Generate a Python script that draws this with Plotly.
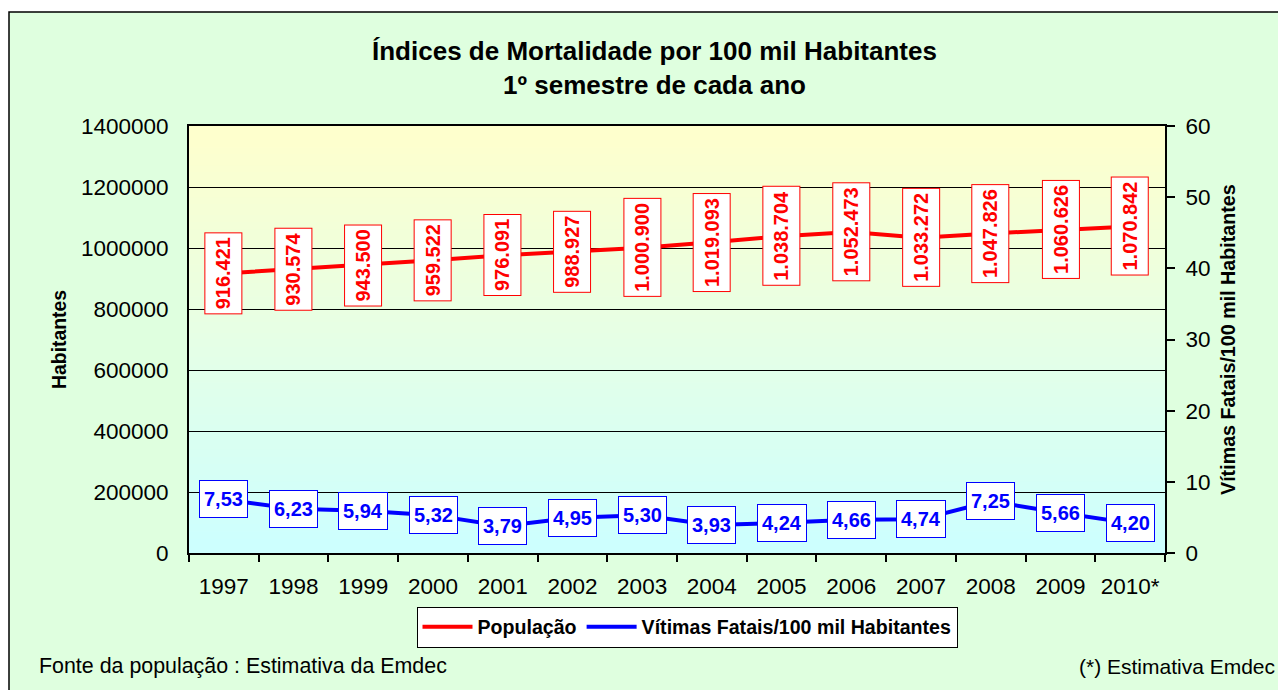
import plotly.graph_objects as go

years = ["1997", "1998", "1999", "2000", "2001", "2002", "2003", "2004",
         "2005", "2006", "2007", "2008", "2009", "2010*"]
populacao = [916421, 930574, 943500, 959522, 976091, 988927, 1000900, 1019093,
             1038704, 1052473, 1033272, 1047826, 1060626, 1070842]
vitimas = [7.53, 6.23, 5.94, 5.32, 3.79, 4.95, 5.30, 3.93,
           4.24, 4.66, 4.74, 7.25, 5.66, 4.20]
left_ticks = [0, 200000, 400000, 600000, 800000, 1000000, 1200000, 1400000]
right_ticks = [0, 10, 20, 30, 40, 50, 60]

W, H = 1286, 690
OFF = 8  # page body margin
FONT = "Arial, Liberation Sans, sans-serif"

def px_x(v):
    return (v - OFF) / W

def px_y(v):
    return 1 - (v - OFF) / H

fig = go.Figure()
fig.add_trace(go.Scatter(x=years, y=populacao, name="População", mode="lines",
                         line=dict(color="#FF0000", width=4), yaxis="y"))
fig.add_trace(go.Scatter(x=years, y=vitimas, name="Vítimas Fatais/100 mil Habitantes",
                         mode="lines", line=dict(color="#0000FF", width=4), yaxis="y2"))

def fmt_pop(v):
    return f"{v:,}".replace(",", ".")

def fmt_vit(v):
    return f"{v:.2f}".replace(".", ",")

annotations = []
for i, (yr, p) in enumerate(zip(years, populacao)):
    annotations.append(dict(x=i, y=p, xref="x", yref="y", text=fmt_pop(p),
                            showarrow=False, textangle=-90, height=28,
                            font=dict(family=FONT, size=20, color="#FF0000", weight="bold"),
                            bgcolor="white", bordercolor="#FF0000", borderwidth=1,
                            borderpad=4, xanchor="center", yanchor="middle"))
for i, (yr, v) in enumerate(zip(years, vitimas)):
    annotations.append(dict(x=i, y=v, xref="x", yref="y2", text=fmt_vit(v),
                            showarrow=False, height=28,
                            font=dict(family=FONT, size=20, color="#0000FF", weight="bold"),
                            bgcolor="white", bordercolor="#0000FF", borderwidth=1,
                            borderpad=4, xanchor="center", yanchor="middle"))

# title
annotations.append(dict(x=px_x(654), y=px_y(68), xref="paper", yref="paper",
                        text="Índices de Mortalidade por 100 mil Habitantes<br>1º semestre de cada ano",
                        showarrow=False, xanchor="center", yanchor="middle",
                        font=dict(family=FONT, size=26, color="black", weight="bold")))
# axis titles
annotations.append(dict(x=px_x(59), y=px_y(340), xref="paper", yref="paper",
                        text="Habitantes", textangle=-90, showarrow=False,
                        xanchor="center", yanchor="middle",
                        font=dict(family=FONT, size=19.4, color="black", weight="bold")))
annotations.append(dict(x=px_x(1228), y=px_y(340), xref="paper", yref="paper",
                        text="Vítimas Fatais/100 mil Habitantes", textangle=-90, showarrow=False,
                        xanchor="center", yanchor="middle",
                        font=dict(family=FONT, size=19.7, color="black", weight="bold")))
# footnotes
annotations.append(dict(x=px_x(37), y=px_y(666), xref="paper", yref="paper",
                        text="Fonte da população : Estimativa da Emdec", showarrow=False,
                        xanchor="left", yanchor="middle",
                        font=dict(family=FONT, size=21.4, color="black")))
annotations.append(dict(x=px_x(1277), y=px_y(666), xref="paper", yref="paper",
                        text="(*) Estimativa Emdec", showarrow=False,
                        xanchor="right", yanchor="middle",
                        font=dict(family=FONT, size=21, color="black")))

shapes = [dict(type="rect", xref="paper", yref="paper", x0=px_x(9), x1=1.05,
               y0=-0.05, y1=px_y(12), fillcolor="#DFFFDF",
               line=dict(color="black", width=1.5), layer="below")]
N = 120
top = (255, 255, 204)
bot = (204, 255, 255)
for k in range(N):
    t = (k + 0.5) / N  # 0 bottom -> 1 top
    c = tuple(round(bot[j] + (top[j] - bot[j]) * t) for j in range(3))
    shapes.append(dict(type="rect", xref="x domain", yref="y domain",
                       x0=0, x1=1, y0=k / N, y1=min(1, (k + 1) / N + 0.002),
                       fillcolor=f"rgb{c}", line=dict(width=0), layer="below"))

fig.update_layout(
    template="none",
    width=W, height=H, autosize=False,
    margin=dict(l=0, r=0, t=0, b=0),
    paper_bgcolor="white", plot_bgcolor="rgba(0,0,0,0)",
    font=dict(family=FONT, color="black"),
    showlegend=True,
    legend=dict(orientation="h", x=px_x(687), y=px_y(627), xanchor="center", yanchor="middle",
                bgcolor="white", bordercolor="black", borderwidth=1,
                font=dict(family=FONT, size=19.6, color="black", weight="bold"),
                itemwidth=50, tracegroupgap=0),
    xaxis=dict(domain=[px_x(189), px_x(1165)], type="category", tickson="boundaries",
               range=[-0.5, len(years) - 0.5], autorange=False, tickangle=0,
               ticks="outside", ticklen=7, tickcolor="black", tickwidth=1.5,
               showline=True, linecolor="black", linewidth=2, mirror=True,
               showgrid=False, automargin=False, ticklabelstandoff=12,
               tickfont=dict(family=FONT, size=22.5, color="black")),
    yaxis=dict(domain=[1 - (553 - OFF) / H, 1 - (126 - OFF) / H], range=[0, 1400000],
               autorange=False,
               tickvals=left_ticks, tickformat="d", ticks="",
               showline=True, linecolor="black", linewidth=2, mirror=True,
               showgrid=True, gridcolor="black", gridwidth=1, zeroline=False,
               automargin=False, ticklabelstandoff=14,
               tickfont=dict(family=FONT, size=22.5, color="black")),
    yaxis2=dict(overlaying="y", side="right", range=[0, 60], autorange=False,
                tickvals=right_ticks,
                ticks="outside", ticklen=8, tickcolor="black", tickwidth=1.5,
                showline=True, linecolor="black", linewidth=2, showgrid=False,
                zeroline=False, automargin=False, ticklabelstandoff=6,
                tickfont=dict(family=FONT, size=22.5, color="black")),
    annotations=annotations,
    shapes=shapes,
)

fig.write_html("out.html")
